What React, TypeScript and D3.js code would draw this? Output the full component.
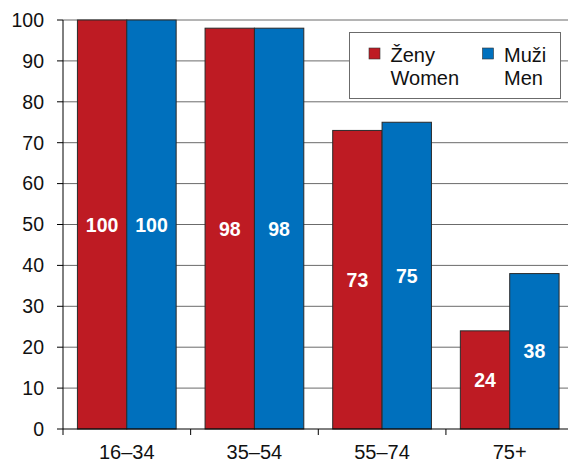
import React from "react";
import * as d3 from "d3";

const categories = ["16–34", "35–54", "55–74", "75+"];
const women = [100, 98, 73, 24];
const men = [100, 98, 75, 38];
const yTicks = [0, 10, 20, 30, 40, 50, 60, 70, 80, 90, 100];
const seriesNames = [
  { cz: "Ženy", en: "Women" },
  { cz: "Muži", en: "Men" },
];

const W = 568;
const H = 463;
const RED = "#be1b23";
const BLUE = "#0070bd";

export default function App() {
  const x = d3.scaleBand<string>().domain(categories).range([63, 573.5]).paddingInner(0.2265).paddingOuter(0.113);
  const y = d3.scaleLinear().domain([0, 100]).range([429, 20]);
  const sub = d3.scaleBand<string>().domain(["w", "m"]).range([0, x.bandwidth()]);
  const font = "Liberation Sans, Arial, sans-serif";
  const series = [
    { key: "w", vals: women, color: RED },
    { key: "m", vals: men, color: BLUE },
  ];
  const step = x.step();
  return (
    <svg width={W} height={H} style={{ position: "absolute", left: 0, top: 0 }} fontFamily={font}>
      <rect x={0} y={0} width={W} height={H} fill="#fff" />
      {yTicks.map((t) => (
        <g key={t}>
          {t > 0 && <line x1={63} x2={W} y1={y(t)} y2={y(t)} stroke="#6b6b6b" strokeWidth={1} />}
          <line x1={57} x2={63} y1={y(t)} y2={y(t)} stroke="#000" strokeWidth={1} />
          <text x={44} y={y(t)} dy="0.35em" textAnchor="end" fontSize={19.5} fill="#111">
            {t}
          </text>
        </g>
      ))}
      {categories.map((c, i) =>
        series.map((s) => {
          const v = s.vals[i];
          const bx = (x(c) as number) + (sub(s.key) as number);
          const bw = sub.bandwidth();
          return (
            <g key={c + s.key}>
              <rect x={bx} y={y(v)} width={bw} height={y(0) - y(v)} fill={s.color} stroke="#2a2a2a" strokeWidth={1} />
              <text
                x={bx + bw / 2}
                y={(y(v) + y(0)) / 2}
                dy="0.36em"
                textAnchor="middle"
                fontSize={19.5}
                fontWeight="bold"
                fill="#fff"
              >
                {v}
              </text>
            </g>
          );
        })
      )}
      <line x1={63} x2={63} y1={20} y2={429} stroke="#000" strokeWidth={1} />
      <line x1={63} x2={W} y1={429} y2={429} stroke="#000" strokeWidth={1} />
      {categories.map((c, i) => (
        <g key={"t" + c}>
          <line
            x1={63 + i * step}
            x2={63 + i * step}
            y1={429}
            y2={435}
            stroke="#000"
          />
          <text
            x={(x(c) as number) + x.bandwidth() / 2}
            y={452}
            dy="0.35em"
            textAnchor="middle"
            fontSize={20}
            fill="#111"
          >
            {c}
          </text>
        </g>
      ))}
      <g>
        <rect x={349.5} y={32.5} width={211} height={66} fill="#fff" stroke="#6b6b6b" strokeWidth={1} />
        {[
          { color: RED, sx: 369, tx: 390.5, n: seriesNames[0] },
          { color: BLUE, sx: 482.5, tx: 504, n: seriesNames[1] },
        ].map((l) => (
          <g key={l.n.cz}>
            <rect x={l.sx} y={48} width={11} height={11} fill={l.color} stroke="#333" strokeWidth={0.6} />
            <text x={l.tx} y={62} fontSize={20} fill="#111">
              {l.n.cz}
            </text>
            <text x={l.tx} y={84.5} fontSize={20} fill="#111">
              {l.n.en}
            </text>
          </g>
        ))}
      </g>
    </svg>
  );
}
